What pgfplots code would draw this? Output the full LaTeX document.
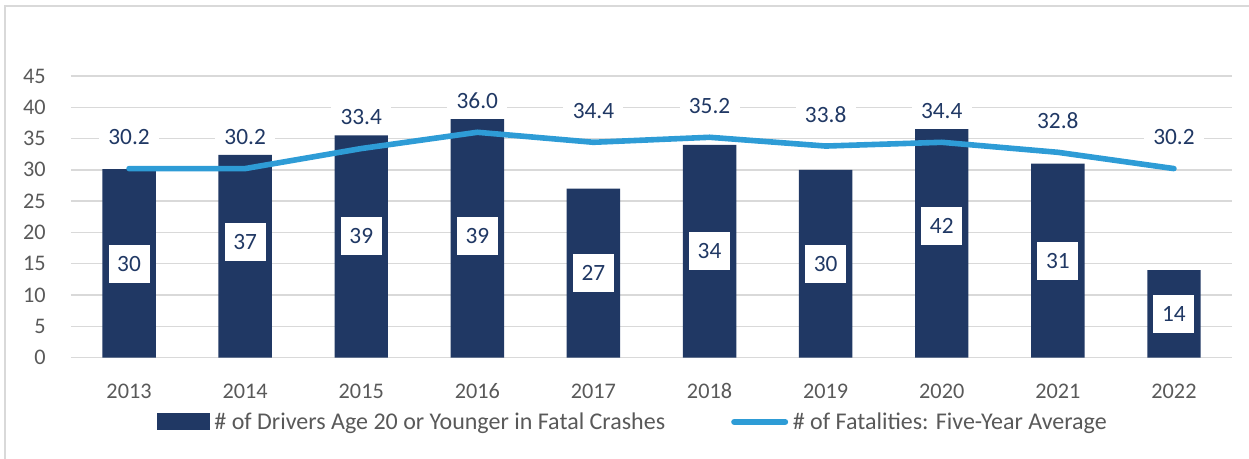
\documentclass[border=0pt]{standalone}
\usepackage{pgfplots}
\pgfplotsset{compat=1.18}
\usepackage{pgfplotstable}
\usepackage{fontspec}
\setmainfont{Carlito}
\definecolor{navy}{HTML}{203864}
\definecolor{sky}{HTML}{2E9CD6}
\definecolor{tickgray}{HTML}{595959}
\definecolor{gridgray}{HTML}{D9D9D9}
\pgfplotstableread{
x bar lab half avg
0 30.1 30 15 30.2
1 32.4 37 18.5 30.2
2 35.5 39 19.5 33.4
3 38.1 39 19.5 36.0
4 27.0 27 13.5 34.4
5 34.0 34 17 35.2
6 30.0 30 15 33.8
7 36.5 42 21 34.4
8 31.0 31 15.5 32.8
9 14.0 14 7 30.2
}\datatable
\begin{document}
\begin{tikzpicture}
\path[use as bounding box] (0,0) rectangle (936.75pt,344.25pt);
\draw[gridgray, line width=1.5pt] (4.1pt,0) -- (4.1pt,340.1pt) -- (936.75pt,340.1pt);
\begin{axis}[
  at={(53.25pt,76pt)}, anchor=south west,
  scale only axis, width=870.75pt, height=211.3pt,
  xmin=-0.5, xmax=9.5, ymin=0, ymax=45,
  ytick={0,5,...,45},
  xtick={0,...,9}, xticklabels={2013,2014,2015,2016,2017,2018,2019,2020,2021,2022},
  axis line style={draw=none},
  major tick length=0pt,
  ymajorgrids, grid style={gridgray, line width=1pt},
  font=\fontsize{16.7}{19}\selectfont,
  /pgf/number format/assume math mode=true,
  tick label style={text=tickgray},
  yticklabel style={xshift=-15.5pt},
  xticklabel style={yshift=-16pt},
  legend style={at={(0.485,-0.228)}, anchor=center, draw=none, fill=none,
    legend columns=2, font=\fontsize{18}{21}\selectfont, text=tickgray,
    /tikz/every even column/.append style={column sep=46pt},
    nodes={inner xsep=3.5pt}},
]
\addplot[ybar, bar width=0.46, fill=navy, draw=none,
  legend image code/.code={\fill[navy] (0pt,-6.4pt) rectangle (39.75pt,6.4pt);}]
  table[x=x, y=bar] {\datatable};
\addlegendentry{\# of Drivers Age 20 or Younger in Fatal Crashes}
\addplot[sky, line width=4.2pt, line join=round, line cap=round, mark=none,
  legend image code/.code={\draw[sky, line width=4.5pt, line cap=round] (2.25pt,0pt) -- (40.5pt,0pt);}]
  table[x=x, y=avg] {\datatable};
\addlegendentry{\# of Fatalities: Five-Year Average}
\addplot[draw=none, mark=none, forget plot,
  point meta=\thisrow{lab},
  nodes near coords={\pgfmathprintnumber[fixed,precision=0]{\pgfplotspointmeta}},
  every node near coord/.append style={anchor=center, fill=white, text=navy,
    minimum width=30.75pt, minimum height=28.5pt, inner sep=0pt,
    font=\fontsize{17.5}{20}\selectfont}]
  table[x=x, y=half] {\datatable};
\addplot[draw=none, mark=none, forget plot,
  point meta=\thisrow{avg},
  nodes near coords={\pgfmathprintnumber[fixed,fixed zerofill,precision=1]{\pgfplotspointmeta}},
  every node near coord/.append style={anchor=center, yshift=23.8pt, fill=white, text=navy,
    inner xsep=7pt, inner ysep=3pt,
    font=\fontsize{17.5}{20}\selectfont}]
  table[x=x, y=avg] {\datatable};
\end{axis}
\end{tikzpicture}
\end{document}
